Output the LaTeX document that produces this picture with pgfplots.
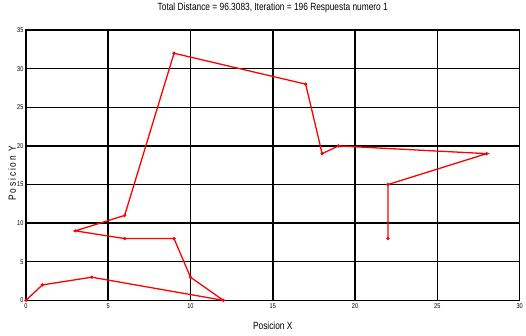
\documentclass[border=0pt]{standalone}
\usepackage{fontspec}
\setmainfont{Liberation Sans}
\newfontfamily\narrowfont[FakeStretch=0.8]{Liberation Sans}
\usepackage{pgfplots}
\pgfplotsset{compat=1.18}
\begin{document}
\begin{tikzpicture}[x=1bp,y=1bp]
\begin{axis}[
  name=ax,
  scale only axis,
  width=495bp, height=271bp,
  xmin=0, xmax=30, ymin=0, ymax=35,
  xtick={0,5,...,30}, ytick={0,5,...,35},
  grid=major,
  major grid style={black, line width=1.5pt},
  axis line style={black, line width=1.5pt},
  major tick length=0pt,
  tick label style={font=\narrowfont\fontsize{7}{8}\selectfont},
  /pgf/number format/assume math mode=true,
  xticklabel style={yshift=0bp},
  yticklabel style={xshift=1bp},
  title={\narrowfont\fontsize{10.5}{12}\selectfont Total Distance = 96.3083, Iteration = 196 Respuesta numero 1},
  title style={at={(axis description cs:0.5,1)}, anchor=center, yshift=16bp},
  xlabel={\narrowfont\fontsize{10.5}{12}\selectfont Posicion X},
  xlabel style={at={(axis description cs:0.5,0)}, anchor=center, yshift=-25bp},
  ylabel={\narrowfont\fontsize{10.5}{12}\selectfont\addfontfeature{LetterSpace=18}Posicion Y},
  ylabel style={at={(axis description cs:-0.028,0.47)}, rotate=0, anchor=center},
]
\addplot[red, line width=1.3pt, mark=*, mark size=0.9pt] coordinates {
(0,0) (1,2) (4,3) (12,0) (10,3) (9,8) (6,8) (3,9) (6,11) (9,32) (17,28) (18,19) (19,20) (28,19) (22,15) (22,8)
};
\end{axis}
\path[use as bounding box] ([xshift=-26bp,yshift=-35bp]ax.south west) rectangle ([xshift=5bp,yshift=29bp]ax.north east);
\end{tikzpicture}
\end{document}
